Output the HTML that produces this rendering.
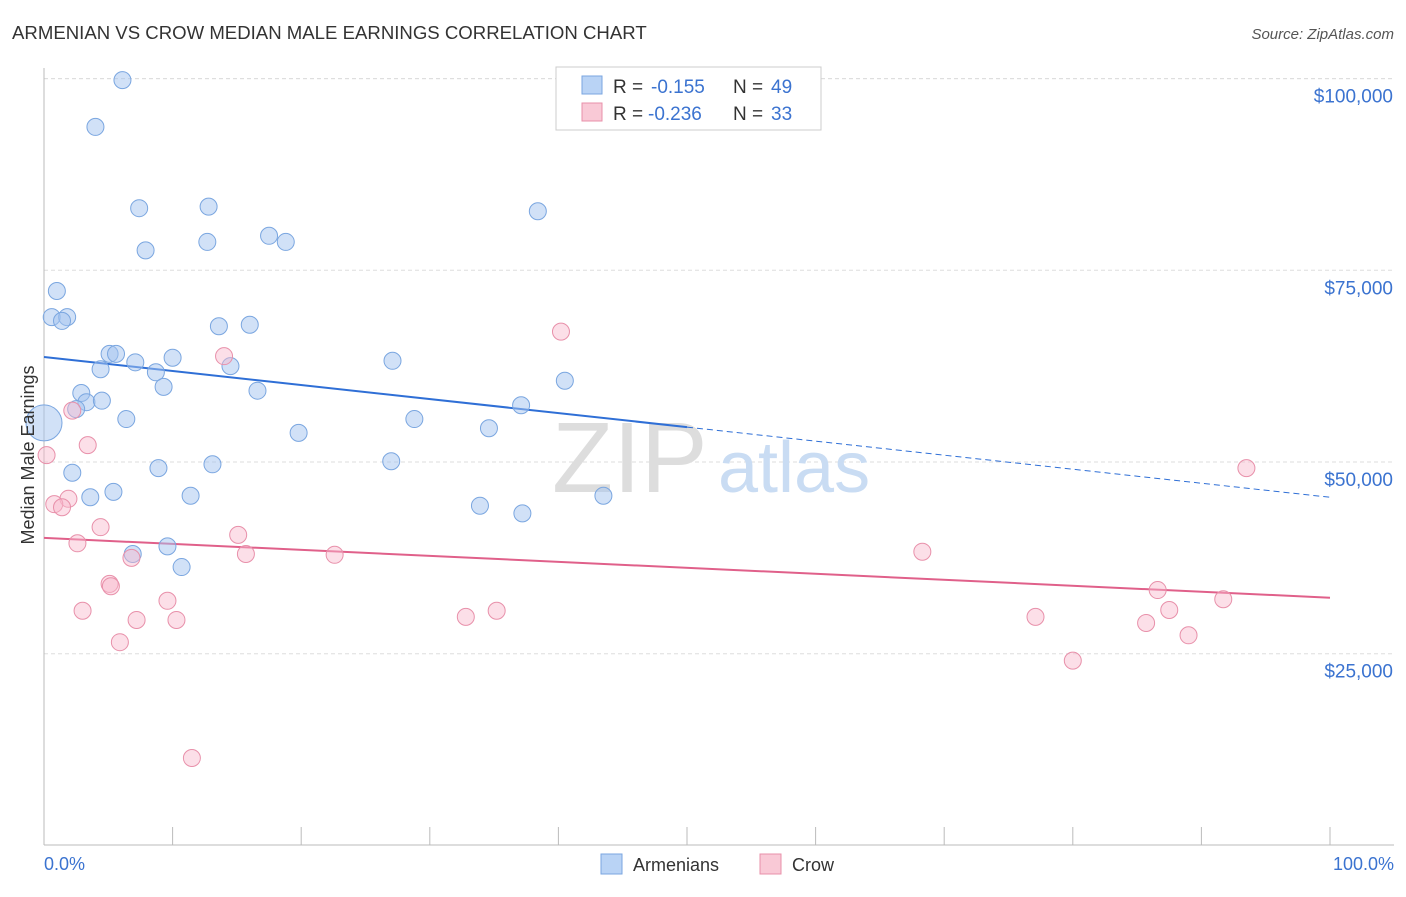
<!DOCTYPE html>
<html><head><meta charset="utf-8"><style>
body{margin:0;background:#fff;font-family:"Liberation Sans",sans-serif;}
svg text{font-family:"Liberation Sans",sans-serif;}
</style></head><body>
<svg id="chart" width="1406" height="892" xmlns="http://www.w3.org/2000/svg">
<text x="12" y="39" font-size="18.6" fill="#333">ARMENIAN VS CROW MEDIAN MALE EARNINGS CORRELATION CHART</text>
<text x="1394" y="39" font-size="15" fill="#555" text-anchor="end" font-style="italic">Source: ZipAtlas.com</text>
<g id="grid"></g>
<text x="552" y="492" font-size="100" fill="#ddd" font-family="Liberation Serif">ZIP</text>
<text x="718" y="492" font-size="72" fill="#c9dcf3">atlas</text>
<g id="lines"></g>
<g id="points"></g>
<text transform="translate(34,455) rotate(-90)" font-size="18" fill="#333" text-anchor="middle">Median Male Earnings</text>
<text x="44" y="870" font-size="18" fill="#3b73d0">0.0%</text>
<text x="1394" y="870" font-size="18" fill="#3b73d0" text-anchor="end">100.0%</text>
<g>
<rect x="556" y="67" width="265" height="63" fill="#fff" stroke="#ccc"/>
<rect x="582" y="76" width="20" height="18" fill="#b9d3f5" stroke="#7aa6e0"/>
<text x="613" y="93" font-size="19" fill="#333">R =</text>
<text x="651" y="93" font-size="19" fill="#3b73d0">-0.155</text>
<text x="733" y="93" font-size="19" fill="#333">N =</text>
<text x="771" y="93" font-size="19" fill="#3b73d0">49</text>
<rect x="582" y="103" width="20" height="18" fill="#f9c9d6" stroke="#e890aa"/>
<text x="613" y="120" font-size="19" fill="#333">R =</text>
<text x="648" y="120" font-size="19" fill="#3b73d0">-0.236</text>
<text x="733" y="120" font-size="19" fill="#333">N =</text>
<text x="771" y="120" font-size="19" fill="#3b73d0">33</text>
</g>
<g>
<rect x="601" y="854" width="21" height="20" fill="#b9d3f5" stroke="#7aa6e0"/>
<text x="633" y="871" font-size="18" fill="#333">Armenians</text>
<rect x="760" y="854" width="21" height="20" fill="#f9c9d6" stroke="#e890aa"/>
<text x="792" y="871" font-size="18" fill="#333">Crow</text>
</g>
</svg>
<script>
const yTicks=[25000,50000,75000,100000];
const yTickLabels=["$25,000","$50,000","$75,000","$100,000"];
const xTicks=[0,10,20,30,40,50,60,70,80,90,100];
const armX=[6.1,4.0,7.4,12.8,38.4,7.9,12.7,17.5,18.8,1.0,0.6,1.8,1.4,13.6,16.0,5.1,5.6,7.1,10.0,27.1,4.4,8.7,14.5,40.5,9.3,2.9,16.6,3.3,4.5,2.5,6.4,28.8,34.6,37.1,19.8,0,2.2,8.9,13.1,27.0,3.6,5.4,11.4,43.5,33.9,37.2,9.6,6.9,10.7];
const armY=[99800,93700,83100,83300,82700,77600,78700,79500,78700,72300,68900,68900,68400,67700,67900,64100,64100,63000,63600,63200,62100,61700,62500,60600,59800,59000,59300,57800,58000,56900,55600,55600,54400,57400,53800,55100,48600,49200,49700,50100,45400,46100,45600,45600,44300,43300,39000,38000,36300];
const crowX=[14.0,40.2,2.2,3.4,0.2,1.9,0.8,1.4,4.4,2.6,15.1,15.7,22.6,6.8,5.1,5.2,9.6,3.0,7.2,10.3,32.8,35.2,5.9,68.3,93.5,86.6,87.5,77.1,85.7,91.7,89.0,80.0,11.5];
const crowY=[63800,67000,56700,52200,50900,45200,44500,44100,41500,39400,40500,38000,37900,37500,34100,33800,31900,30600,29400,29400,29800,30600,26500,38300,49200,33300,30700,29800,29000,32100,27400,24100,11400];
const armTrend=[63700,45400];
const crowTrend=[40100,32300];
const NS="http://www.w3.org/2000/svg";
const X=v=>44+v*12.86;
const Y=v=>462-(v-50000)*191.7/25000;
function mk(tag,attrs,parent){const e=document.createElementNS(NS,tag);for(const k in attrs)e.setAttribute(k,attrs[k]);parent.appendChild(e);return e;}
const grid=document.getElementById('grid');
const topL=mk('line',{x1:44,x2:1394,y1:Y(100000),y2:Y(100000),stroke:'#ddd','stroke-dasharray':'4,3'},grid);


yTicks.forEach((t,i)=>{
 const l=mk('line',{x1:44,x2:1394,y1:Y(t),y2:Y(t),stroke:'#ddd','stroke-dasharray':'4,3'},grid);
 
 
 const tx=mk('text',{x:1393,y:Y(t)+24,'font-size':19,fill:'#3b73d0','text-anchor':'end'},grid);
 tx.textContent=yTickLabels[i];
 
 
});
const ax=mk('line',{x1:44,x2:44,y1:68,y2:845,stroke:'#bbb'},grid);


const bx=mk('line',{x1:44,x2:1394,y1:845,y2:845,stroke:'#bbb'},grid);


xTicks.forEach(t=>{
 const l=mk('line',{x1:X(t),x2:X(t),y1:827,y2:845,stroke:'#bbb'},grid);
 
 
});
const lines=document.getElementById('lines');
const bm=armTrend[0]+(armTrend[1]-armTrend[0])*0.5;
const b1=mk('line',{x1:X(0),y1:Y(armTrend[0]),x2:X(50),y2:Y(bm),stroke:'#2f6fd6','stroke-width':2},lines);


const b2=mk('line',{x1:X(50),y1:Y(bm),x2:X(100),y2:Y(armTrend[1]),stroke:'#2f6fd6','stroke-width':1,'stroke-dasharray':'6,4'},lines);


const p1=mk('line',{x1:X(0),y1:Y(crowTrend[0]),x2:X(100),y2:Y(crowTrend[1]),stroke:'#e0608a','stroke-width':2},lines);


const pts=document.getElementById('points');
armX.forEach((x,i)=>{
 const c=mk('circle',{cx:X(x),cy:Y(armY[i]),r:x===0?18:8.5,fill:'rgba(164,196,240,0.5)',stroke:'#7aa6e0','stroke-width':1},pts);
 
 
});
crowX.forEach((x,i)=>{
 const c=mk('circle',{cx:X(x),cy:Y(crowY[i]),r:8.5,fill:'rgba(248,185,205,0.45)',stroke:'#e890aa','stroke-width':1},pts);
 
 
});
</script>
</body></html>
